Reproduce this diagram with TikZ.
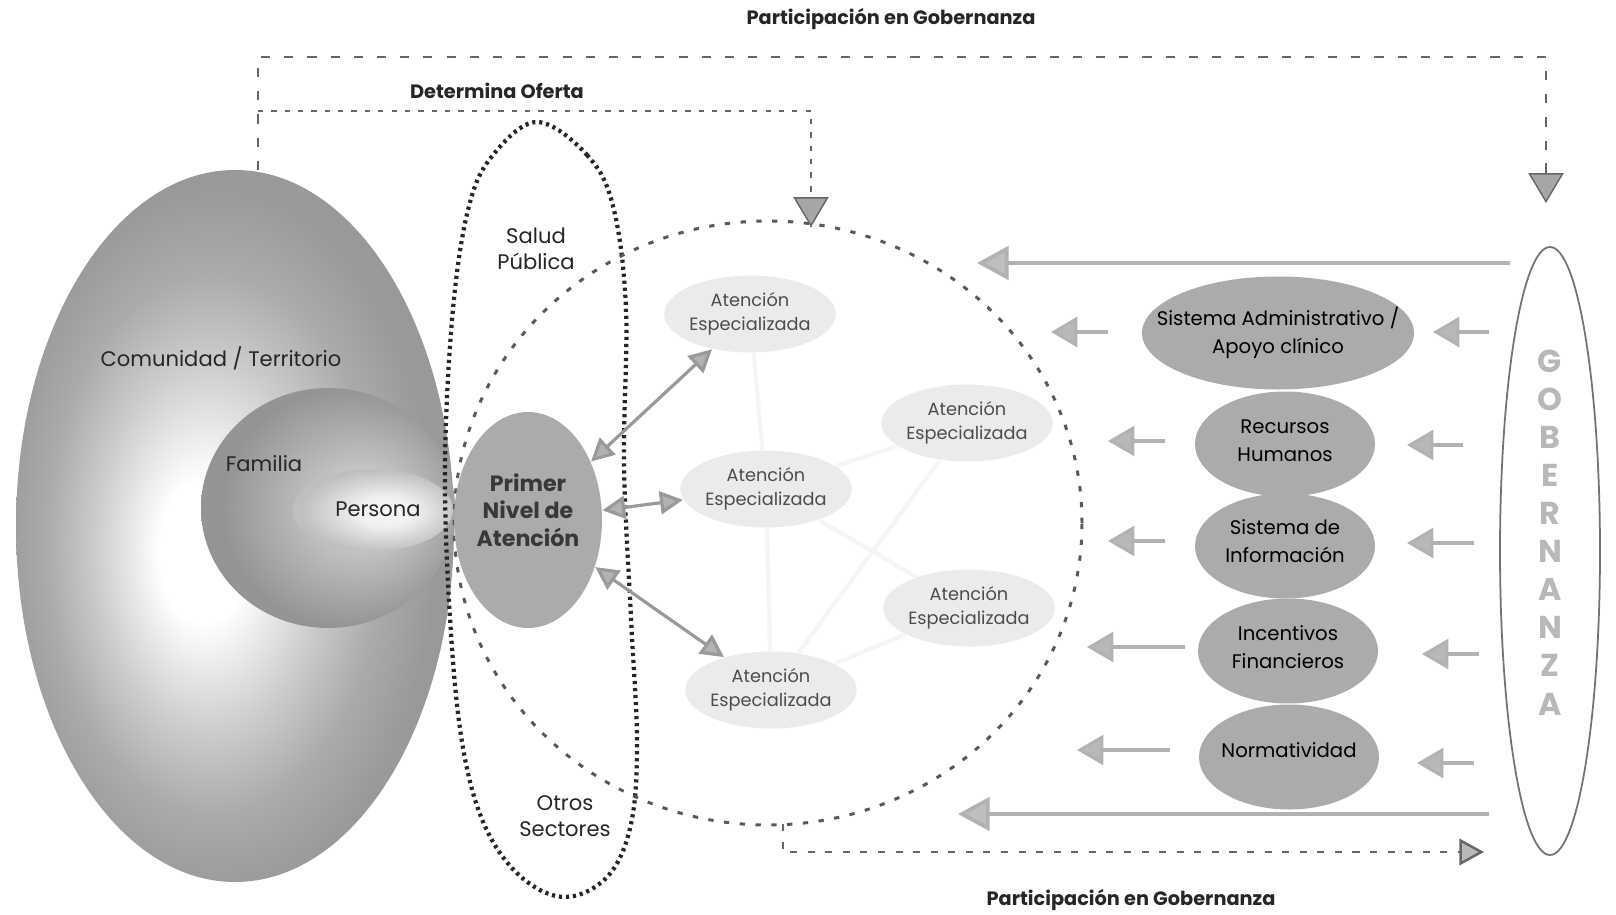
\documentclass[tikz,border=0pt]{standalone}
\usepackage{fontspec}
\setmainfont{Poppins}
\usepackage{xcolor}
\usetikzlibrary{arrows.meta,positioning,shapes.geometric,calc}
\pgfdeclareradialshading{comshade}{\pgfpoint{-4bp}{-2bp}}{color(0bp)=(white);color(5bp)=(white);color(13bp)=(black!20);color(19bp)=(black!33);color(25bp)=(black!40);color(50bp)=(black!40)}
\pgfdeclareradialshading{famshade}{\pgfpoint{8bp}{0bp}}{color(0bp)=(black!12);color(10bp)=(black!25);color(25bp)=(black!42);color(50bp)=(black!42)}
\pgfdeclareradialshading{pershade}{\pgfpoint{5bp}{-1bp}}{color(0bp)=(black!2);color(9bp)=(black!6);color(25bp)=(black!25);color(50bp)=(black!25)}
\tikzset{
	txt/.style={font=\fontsize{6}{7.4}\selectfont,text=black!85,align=center},
	title/.style={font=\fontsize{5.5}{6.5}\selectfont\bfseries,text=black!85,align=center},
	pntxt/.style={font=\fontsize{6.3}{7.9}\selectfont\bfseries,text=black!78,align=center},
	esp/.style={ellipse,fill=black!8,inner sep=0pt,minimum width=1.65cm,minimum height=0.77cm,font=\fontsize{5.05}{6.7}\selectfont,text=black!70,align=center},
	comp/.style={ellipse,fill=black!33,inner sep=0pt,minimum width=1.80cm,minimum height=1.05cm},
	comptxt/.style={font=\fontsize{5.6}{7.9}\selectfont,text=black,align=center},
	gov/.style={font=\fontsize{9}{9}\selectfont\bfseries,text=black!28},
	dashroute/.style={draw=black!60,line width=0.7pt,dash pattern=on 2.6pt off 4pt},
	downtip/.style={-{Triangle[width=10pt,length=8.5pt,fill=black!35]}},
	sidearrow/.style={draw=black!30,line width=0.9pt,-{Triangle[width=8.5pt,length=7.5pt,fill=black!28]}},
	longarrow/.style={draw=black!30,line width=1.1pt,-{Triangle[width=9.5pt,length=9pt,fill=black!25]}},
	dblarrow/.style={draw=black!40,line width=0.9pt,{Triangle[width=6.5pt,length=6.5pt,fill=black!30]}-{Triangle[width=6.5pt,length=6.5pt,fill=black!30]}}
}
\begin{document}
\begin{tikzpicture}
	\useasboundingbox[fill=white] (0,0) rectangle (16.16,9.14);
	% comunidad, familia, persona
	\node[ellipse,shading=comshade,inner sep=0pt,minimum width=4.38cm,minimum height=7.12cm] (com) at (2.35,3.88) {};
	\node[ellipse,shading=famshade,inner sep=0pt,minimum width=2.54cm,minimum height=2.40cm] (fam) at (3.28,4.06) {};
	\node[ellipse,shading=pershade,inner sep=0pt,minimum width=1.60cm,minimum height=0.82cm] (per) at (3.73,4.04) {};
	\node[txt] (comlbl) at (2.21,5.56) {Comunidad / Territorio};
	\node[txt] (famlbl) at (2.64,4.50) {Familia};
	\node[txt] (perlbl) at (3.78,4.05) {Persona};
	% salud publica / otros sectores
	\draw[black!85,line width=1.2pt,dash pattern=on 0.9pt off 1.1pt] plot[smooth cycle,tension=0.6] coordinates {(5.37,7.92) (5.87,7.59) (6.13,7.08) (6.26,6.05) (6.24,4.50) (6.31,2.96) (6.37,1.72) (6.31,0.90) (6.08,0.38) (5.65,0.17) (5.20,0.38) (4.84,0.90) (4.62,1.72) (4.50,2.96) (4.45,4.50) (4.53,6.05) (4.69,7.08) (4.93,7.59)};
	\node[txt] (salud) at (5.36,6.65) {Salud\\Pública};
	\node[txt] (otros) at (5.65,0.98) {Otros\\Sectores};
	% red de atencion
	\node[ellipse,draw=black!65,line width=0.85pt,dash pattern=on 1.5pt off 3pt,inner sep=0pt,minimum width=6.28cm,minimum height=6.04cm] (red) at (7.68,3.91) {};
	\node[esp] (ae1) at (7.50,6.00) {Atención\\Especializada};
	\node[esp] (ae2) at (9.67,4.91) {Atención\\Especializada};
	\node[esp] (ae3) at (7.66,4.25) {Atención\\Especializada};
	\node[esp] (ae4) at (9.69,3.06) {Atención\\Especializada};
	\node[esp] (ae5) at (7.71,2.24) {Atención\\Especializada};
	\draw[black!4,line width=1.2pt] (ae1)--(ae3) (ae3)--(ae5) (ae3)--(ae2) (ae5)--(ae4) (ae2)--(ae5) (ae4)--(ae3);
	\node[ellipse,fill=black!33,inner sep=0pt,minimum width=1.48cm,minimum height=2.16cm] (pn) at (5.28,3.94) {};
	\node[pntxt] (pnlbl) at (5.28,4.04) {Primer\\Nivel de\\Atención};
	\draw[dblarrow] (pn)--(ae1);
	\draw[dblarrow] (pn)--(ae3);
	\draw[dblarrow] (pn)--(ae5);
	% componentes
	\node[comp,minimum width=2.72cm,minimum height=1.13cm] (adm) at (12.78,5.81) {};
	\node[comp] (rh) at (12.85,4.70) {};
	\node[comp] (si) at (12.85,3.68) {};
	\node[comp] (inc) at (12.88,2.63) {};
	\node[comp] (nor) at (12.89,1.57) {};
	\node[comptxt] (admlbl) at (adm) {Sistema Administrativo /\\Apoyo clínico};
	\node[comptxt] (rhlbl) at (12.85,4.73) {Recursos\\Humanos};
	\node[comptxt] (silbl) at (12.85,3.73) {Sistema de\\Información};
	\node[comptxt] (inclbl) at (12.88,2.67) {Incentivos\\Financieros};
	\node[comptxt] (norlbl) at (12.89,1.64) {Normatividad};
	\foreach \n/\y/\a/\b in {1/5.82/11.08/10.51,2/4.73/11.65/11.08,3/3.73/11.65/11.08,4/2.67/11.85/10.87,5/1.64/11.70/10.77}{
		\coordinate (la\n) at (\a,\y);
		\coordinate (lb\n) at (\b,\y);
		\draw[sidearrow] (la\n)--(lb\n);
	}
	\foreach \n/\y/\a/\b in {1/5.82/14.89/14.33,2/4.69/14.63/14.07,3/3.71/14.74/14.07,4/2.60/14.79/14.22,5/1.51/14.74/14.17}{
		\coordinate (ra\n) at (\a,\y);
		\coordinate (rb\n) at (\b,\y);
		\draw[sidearrow] (ra\n)--(rb\n);
	}
	\coordinate (tla) at (15.10,6.51);
	\coordinate (tlb) at (9.77,6.51);
	\coordinate (bla) at (14.89,1.00);
	\coordinate (blb) at (9.58,1.00);
	\draw[longarrow] (tla)--(tlb);
	\draw[longarrow] (bla)--(blb);
	% gobernanza
	\node[ellipse,draw=black!55,line width=0.5pt,inner sep=0pt,minimum width=1.00cm,minimum height=6.08cm] (gob) at (15.50,3.63) {};
	\foreach \l [count=\i from 0] in {G,O,B,E,R,N,A,N,Z,A}
		\node[gov] (g\i) at (15.50,5.53-0.381*\i) {\l};
	% participacion y oferta
	\coordinate (pstart) at (2.58,7.44);
	\coordinate (pcorner) at (2.58,8.57);
	\coordinate (pend) at (15.46,7.11);
	\coordinate (ocorner) at (2.58,8.03);
	\coordinate (oend) at (8.11,6.87);
	\draw[dashroute] (pstart)--(pcorner)-|(pend);
	\draw[dashroute,dash pattern=on 1.5pt off 2.3pt] (ocorner)-|(oend);
	\draw[downtip,draw=black!60,dash pattern=on 1.5pt off 2.3pt] ($(oend)+(0,0.4)$)--(oend);
	\draw[downtip,draw=black!60,dash pattern=on 2.6pt off 4pt] ($(pend)+(0,0.4)$)--(pend);
	\node[title] (ptop) at (8.91,8.95) {Participación en Gobernanza};
	\node[title] (oferta) at (4.97,8.23) {Determina Oferta};
	\coordinate (bstart) at (7.83,0.90);
	\coordinate (bcorner) at (7.83,0.62);
	\coordinate (bend) at (14.84,0.62);
	\draw[dashroute,dash pattern=on 2pt off 3pt,-{Triangle[width=7.5pt,length=7pt,fill=black!28]}] (bstart)--(bcorner)--(bend);
	\node[title] (pbot) at (11.31,0.14) {Participación en Gobernanza};
\end{tikzpicture}
\end{document}
